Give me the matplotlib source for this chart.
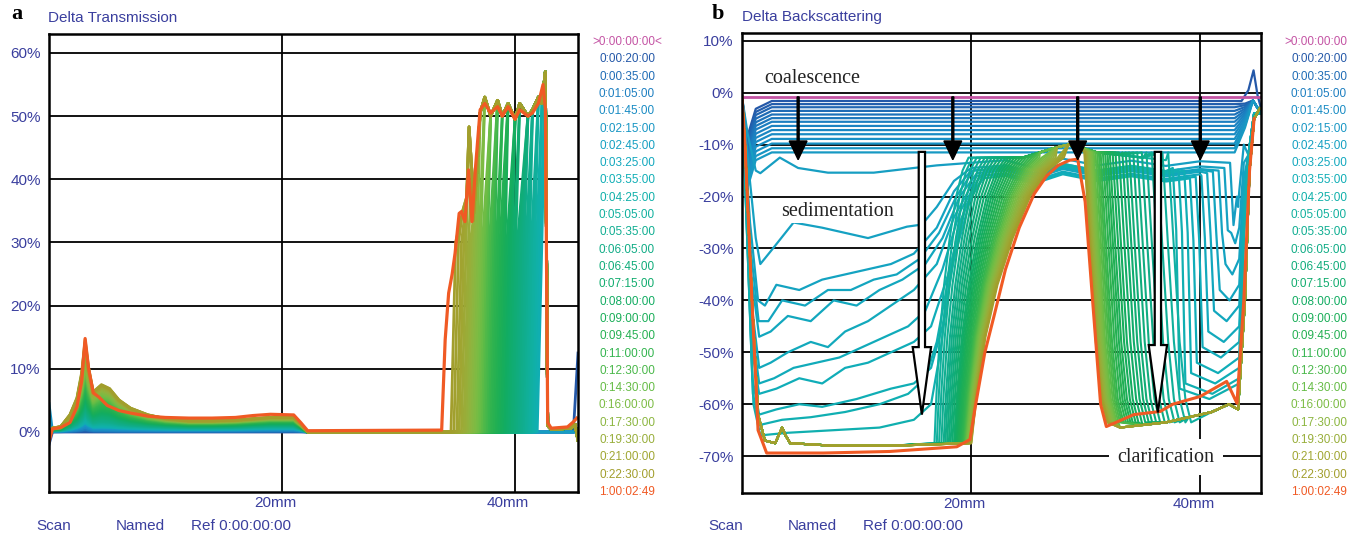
import numpy as np
import matplotlib
matplotlib.use("Agg")
import matplotlib.pyplot as plt
from matplotlib.patches import FancyArrow
from matplotlib.colors import LinearSegmentedColormap

plt.rcParams["font.family"] = ["Liberation Sans", "DejaVu Sans"]

TEXT_BLUE = "#3a3f9e"
REF_COLOR = "#c454a4"
FINAL_COLOR = "#f05a24"

# legend (scan times) and their colours
LEGEND_A = [">0:00:00:00<", "0:00:20:00", "0:00:35:00", "0:01:05:00", "0:01:45:00",
            "0:02:15:00", "0:02:45:00", "0:03:25:00", "0:03:55:00", "0:04:25:00",
            "0:05:05:00", "0:05:35:00", "0:06:05:00", "0:06:45:00", "0:07:15:00",
            "0:08:00:00", "0:09:00:00", "0:09:45:00", "0:11:00:00", "0:12:30:00",
            "0:14:30:00", "0:16:00:00", "0:17:30:00", "0:19:30:00", "0:21:00:00",
            "0:22:30:00", "1:00:02:49"]
LEGEND_B = [">0:00:00:00"] + LEGEND_A[1:]
PALETTE = ["#2458a8", "#1f6cb6", "#1c7ec0", "#1a8cc4", "#1896c4",
           "#15a0c2", "#12a8be", "#10aeb6", "#10b0aa", "#10b09e",
           "#10ae92", "#10ac86", "#10ac7a", "#10ac6e", "#12ac62",
           "#1aae58", "#24b052", "#32b44e", "#4ab84a", "#66bc46",
           "#7cbc44", "#8cb640", "#98ae3a", "#a0a632", "#a29e2c"]
LEGEND_COLORS = [REF_COLOR] + PALETTE + [FINAL_COLOR]

# ---------------- panel a : delta transmission ----------------
FINAL_A_X = [0.0, 0.3, 1.0, 1.8, 2.4, 2.8, 3.1, 3.4, 3.8, 4.3, 5.0, 6.0, 7.0, 8.5,
             10.0, 12.0, 14.0, 16.0, 17.5, 19.0, 21.0, 21.6, 22.2, 33.7, 34.0, 34.3,
             34.6, 34.85, 35.2, 35.4, 35.7, 36.0, 36.3, 36.6, 37.0, 37.4, 37.9, 38.5,
             38.9, 39.4, 40.0, 40.4, 41.1, 41.5, 42.0, 42.4, 42.6, 42.8, 43.1, 44.5,
             45.0, 45.3]
FINAL_A_Y = [-1.5, 0.5, 0.7, 1.5, 4.0, 8.0, 14.8, 10.0, 6.2, 5.5, 4.2, 3.4, 3.0, 2.5,
             2.3, 2.2, 2.2, 2.3, 2.6, 2.8, 2.7, 1.5, 0.2, 0.3, 14.6, 22.0,
             25.0, 28.3, 34.6, 34.9, 33.3, 41.5, 33.3, 41.8, 51.0, 52.0, 50.5, 51.5,
             50.0, 51.5, 49.5, 51.0, 50.0, 50.5, 52.0, 55.0, 51.0, 1.5, 0.6, 0.8,
             1.6, 2.2]

# lower zone (0-22 mm): shared shape pieces of the stacked scans
LOW_A_X = [0.0, 0.3, 1.0, 1.8, 2.4, 2.8, 3.1, 3.4, 3.8, 4.5, 5.2, 6.0, 7.0, 8.5,
           10.0, 12.0, 14.0, 16.0, 17.5, 19.0, 21.0, 21.6, 22.2]
LOW_A_BASE = [0.0, 0.3, 0.4, 0.6, 0.8, 0.9, 1.0, 1.0, 1.0, 1.1, 1.1, 1.05, 1.0, 0.95,
              0.9, 0.85, 0.85, 0.9, 1.0, 1.1, 1.1, 0.6, 0.0]
LOW_A_PEAK = [0, 0, 0, 0.12, 0.3, 0.6, 1.0, 0.55, 0.15, 0.05, 0.02, 0, 0, 0,
              0, 0, 0, 0, 0, 0, 0, 0, 0]
LOW_A_BUMP = [0, 0, 0, 0, 0, 0, 0, 0.25, 0.5, 0.95, 0.9, 0.6, 0.35, 0.15,
              0.05, 0, 0, 0, 0, 0, 0, 0, 0]

NAN = float("nan")
SCAN_A_LEVEL = [0.0, 0.1, 0.15, 0.25, 0.35, 0.45,
                0.5, 0.55, 0.6, 0.65, 0.7, 0.72, 0.75, 0.8, 0.85, 0.88,
                0.9, 0.95, 1.0, 1.02, 1.05, 1.1, 1.15, 1.18, 1.2, 1.25,
                1.3, 1.32, 1.35, 1.4, 1.45, 1.48, 1.5, 1.55, 1.6, 1.62,
                1.65, 1.7, 1.72, 1.75, 1.8, 1.82, 1.85, 1.88, 1.9, 1.92,
                1.95, 1.98, 2.0, 2.02, 2.05, 2.08, 2.1, 2.1]
SCAN_A_PEAK = [0.0, 0.2, 0.3, 0.5, 0.7, 0.9,
               1.0, 1.1, 1.2, 1.35, 1.5, 1.6, 1.75, 1.9, 2.0, 2.15,
               2.3, 2.5, 2.65, 2.8, 3.0, 3.2, 3.4, 3.6, 3.8, 4.0,
               4.25, 4.5, 4.75, 5.0, 5.3, 5.6, 5.9, 6.2, 6.5, 6.8,
               7.1, 7.4, 7.7, 8.0, 8.3, 8.6, 8.9, 9.2, 9.5, 9.8,
               10.1, 10.4, 10.7, 11.0, 11.4, 11.8, 12.1, 12.5]
SCAN_A_BUMP = [0, 0, 0, 0.05, 0.1, 0.15,
               0.2, 0.25, 0.3, 0.35, 0.4, 0.45, 0.5, 0.55, 0.6, 0.65,
               0.7, 0.8, 0.9, 1.0, 1.1, 1.2, 1.3, 1.4, 1.5, 1.6,
               1.7, 1.8, 1.9, 2.0, 2.1, 2.2, 2.35, 2.5, 2.65, 2.8,
               2.95, 3.1, 3.25, 3.4, 3.55, 3.7, 3.85, 4.0, 4.1, 4.2,
               4.3, 4.4, 4.5, 4.6, 4.65, 4.7, 4.75, 4.8]
SCAN_A_FRONT = [NAN, NAN, NAN, NAN, NAN, NAN,
                41.9, 41.75, 41.6, 41.45, 41.3, 41.15, 41.0, 40.85, 40.7, 40.55,
                40.4, 40.25, 40.1, 39.95, 39.8, 39.65, 39.5, 39.35, 39.2, 39.05,
                38.9, 38.75, 38.6, 38.45, 38.3, 38.15, 38.0, 37.85, 37.7, 37.55,
                37.4, 37.25, 37.1, 36.95, 36.8, 36.65, 36.5, 36.35, 36.2, 36.05,
                35.9, 35.75, 35.6, 35.4, 35.2, 35.0, 34.75, 34.5]

PLAT_A_X = [34.6, 34.85, 35.1, 35.5, 35.85, 36.05, 36.3, 36.4, 36.7, 37.0, 37.4, 37.9,
            38.5, 38.9, 39.4, 40.0, 40.4, 41.1, 41.5, 42.0, 42.3, 42.6]
PLAT_A_Y = [27.0, 30.4, 34.6, 35.0, 37.2, 48.3, 41.0, 33.5, 41.0, 50.5, 53.0, 50.0,
            52.5, 50.0, 52.0, 49.5, 52.0, 50.0, 51.0, 53.0, 52.0, 57.0]
TAIL_A_X = [42.8, 43.1, 44.8, 45.15, 45.4]
TAIL_A_Y = [1.0, 0.4, 0.6, 1.2, -1.3]

# ---------------- panel b : delta backscattering ----------------
REF_B_X = [0.0, 45.3]
REF_B_Y = [-0.8, -0.8]

COAL_LEVEL_B = [-1.6, -2.2, -2.8, -3.5, -4.2, -4.9, -5.6, -6.4, -7.2, -8.0, -8.9,
                -9.8, -10.7, -11.5]

SED_LEFT_X = [
    [0, 0.5, 1.2, 1.6, 3.3, 4.9, 7.5, 11.5, 15.0, 17.0, 20.0],
    [0, 0.6, 1.2, 1.6, 2.7, 4.5, 7.0, 9.0, 11.0, 14.4, 15.7, 17.0, 18.5, 20.0],
    [0, 0.7, 1.4, 2.0, 3.0, 5.0, 7.0, 9.0, 11.0, 13.0, 15.0, 17.0, 18.5, 20.0],
    [0, 0.75, 1.45, 2.3, 3.5, 5.5, 7.5, 9.5, 11.5, 13.5, 15.5, 17.2, 18.7, 20.2],
    [0, 0.8, 1.5, 2.5, 4.0, 6.0, 8.0, 10.0, 12.0, 14.0, 16.0, 17.5, 19.0, 20.5],
    [0, 0.8, 1.5, 2.5, 4.0, 6.0, 7.5, 9.0, 11.0, 13.0, 15.0, 17.0, 18.5, 20.5],
    [0, 0.85, 1.5, 2.8, 4.5, 6.5, 8.5, 10.5, 12.5, 14.5, 16.0, 17.5, 19.0, 20.8],
    [0, 0.9, 1.5, 3.0, 5.0, 7.0, 9.0, 11.0, 13.0, 15.0, 16.5, 18.0, 19.5, 21.0],
    [0, 0.9, 1.5, 3.0, 5.0, 7.0, 10.0, 13.0, 15.0, 16.5, 17.5, 18.5, 20.0, 21.5],
    [0, 0.95, 1.55, 3.5, 6.0, 9.0, 12.0, 14.5, 16.0, 17.0, 18.0, 19.0, 20.5, 21.5],
    [0, 1.0, 1.6, 4.0, 8.0, 12.0, 15.0, 16.5, 17.3, 18.2, 19.5, 21.5],
]
SED_LEFT_Y = [
    [-0.8, -8, -15, -15.5, -12.5, -14.5, -15.4, -15.4, -14.5, -14, -13.5],
    [-0.8, -15, -28, -33, -30, -25, -26, -27, -28, -25.8, -25.4, -22, -17, -14.5],
    [-0.8, -25, -40, -41, -37, -38, -36, -35, -34, -33, -31, -26, -19, -15],
    [-0.8, -30, -44, -44, -40, -41, -38, -38, -36, -35, -32, -27, -20, -15],
    [-0.8, -35, -47, -46, -43, -44, -40, -41, -38, -36, -33, -28, -20, -15.5],
    [-0.8, -40, -53, -52, -50, -48, -49, -46, -44, -41, -38, -33, -24, -16],
    [-0.8, -45, -56, -55, -53, -52, -51, -49, -47, -45, -42, -34, -23, -16],
    [-0.8, -50, -58, -57, -55, -56, -53, -52, -50, -48, -45, -35, -22, -16.5],
    [-0.8, -55, -62, -61, -60, -60.5, -59, -57, -56, -53, -45, -32, -20, -15],
    [-0.8, -58, -64, -63, -62.5, -61.5, -60, -58, -55, -48, -36, -25, -17, -14.5],
    [-0.8, -60, -66, -65.5, -65, -64.5, -63, -60, -50, -35, -22, -14.5],
]
SED_MID_LEVEL = [-13.5, -14.5, -15.0, -15.2, -15.5, -16.0, -16.2, -16.5, -15.0, -14.8, -14.5]
MID_X = [23.0, 25.5, 28.0, 31.0, 34.0, 37.0, 40.0]
MID_DY = [0.5, -1.0, 0.8, -0.5, 0.4, -0.6, 0.3]
SED_CLAR_FRONT = [42.6, 42.1, 41.6, 41.1, 40.6, 40.1, 39.6, 39.1, 38.6, 38.1, 37.6]
SED_CLAR_DEPTH = [-20, -27, -33, -38, -42, -46, -49, -52, -54, -56, -57]

SED_FRONT_B = [16.8, 17.0, 17.2, 17.4, 17.6, 17.75, 17.9, 18.05, 18.2, 18.35,
               18.5, 18.6, 18.7, 18.8, 18.9, 19.0, 19.1, 19.2, 19.3, 19.38,
               19.45, 19.52, 19.58, 19.64, 19.7, 19.75, 19.8, 19.84, 19.88, 19.92,
               19.95, 19.98, 20.0, 20.02]
CLAR_FRONT_B = [37.2, 36.7, 36.2, 35.75, 35.3, 34.9, 34.5, 34.15, 33.8, 33.5,
                33.2, 32.9, 32.6, 32.35, 32.1, 31.9, 31.7, 31.5, 31.3, 31.15,
                31.0, 30.85, 30.7, 30.6, 30.5, 30.4, 30.3, 30.22, 30.15, 30.08,
                30.02, 29.96, 29.92, 29.88]
LEFT_B_X = [0.0, 0.26, 0.87, 1.4, 2.0, 2.9, 3.2, 3.5, 3.8, 4.2, 8.0, 13.0]
LEFT_B_Y = [-0.8, -10, -40, -62, -67, -67.5, -66, -64.5, -66, -67.5, -68, -68]
RISE_DX = [0.0, 0.5, 1.3, 2.4, 3.8, 5.4, 7.0, 8.5]
RISE_Y = [-67.5, -58, -47, -37, -28, -20, -15, -12.5]
PLAT_B_X = [24.5, 26.0, 27.5, 28.5, 29.5, 31.0, 33.0, 35.0, 37.0, 39.0]
PLAT_B_Y = [-12.5, -11.5, -10.5, -10.0, -10.5, -11.5, -12.0, -12.5, -13.0, -13.0]
DROP_DX = [0.0, 0.5, 1.0, 1.5, 2.0]
DROP_Y = [-11.5, -30, -48, -59, -63.5]
BOT_B_X = [33.0, 35.0, 37.0, 39.0, 41.0, 42.5, 43.3]
BOT_B_Y = [-64.5, -64.0, -63.5, -62.5, -61.5, -60.0, -61.0]
TAIL_B_X = [43.9, 44.3, 44.7, 45.2]
TAIL_B_Y = [-40, -15, -5, -3]

FINAL_B_X = [0.0, 0.26, 0.87, 1.4, 2.15, 7.1, 12.9, 18.75, 19.9, 20.4, 21.2, 22.0,
             23.0, 24.2, 25.5, 26.6, 27.6, 28.6, 29.3, 29.95, 30.6, 31.3, 31.8, 34.2,
             36.5, 37.6, 40.0, 42.3, 43.2, 43.8, 44.3, 44.7]
FINAL_B_Y = [-0.8, -10, -40, -65, -69.4, -69.4, -69.1, -68.2, -66.8, -60, -50, -43,
             -34, -26, -19.5, -16, -14, -13, -12.8, -21, -40, -60, -64.3, -62,
             -61.4, -60, -58.5, -55.6, -59.8, -40, -15, -5]

COAL_ARROW_X = [4.9, 18.4, 29.3, 40.0]
HOLLOW_ARROW_X = [15.7, 36.3]
HOLLOW_ARROW_TIP = [-62.0, -61.6]

cmap = LinearSegmentedColormap.from_list("scan", PALETTE)
W, H = 1361, 538
fig = plt.figure(figsize=(W / 100, H / 100), dpi=100)


def px_axes(left, top, right, bottom):
    return fig.add_axes([left / W, 1 - bottom / H, (right - left) / W, (bottom - top) / H])


def ftext(x, y, s, **kw):
    fig.text(x / W, 1 - y / H, s, **kw)


def setup(ax, xmax, ylim, yticks):
    ax.set_xlim(0, xmax)
    ax.set_ylim(*ylim)
    for t in yticks:
        ax.axhline(t, color="black", lw=1.3, zorder=1)
    for t in (20, 40):
        ax.axvline(t, color="black", lw=1.3, zorder=1)
        ax.annotate(f"{t}mm", xy=(t, 0), xycoords=("data", "axes fraction"),
                    xytext=(-7, -11), textcoords="offset pixels", ha="center",
                    va="center", color=TEXT_BLUE, fontsize=11)
    ax.set_xticks([])
    ax.set_yticks(yticks)
    ax.set_yticklabels([f"{t}%" for t in yticks], color=TEXT_BLUE, fontsize=11)
    ax.tick_params(axis="y", length=0, pad=6)
    for sp in ax.spines.values():
        sp.set_linewidth(1.8)
        sp.set_zorder(10)


# ---- panel a ----
ax = px_axes(49, 34, 578, 492)
setup(ax, 45.4, (-9.5, 63.0), [0, 10, 20, 30, 40, 50, 60])
ax.plot([0, 45.4], [0, 0], color=REF_COLOR, lw=1.5, zorder=1.5)

n_a = len(SCAN_A_LEVEL)
pos_a = np.concatenate([np.linspace(0.0, 0.2, 6), np.linspace(0.3, 1.0, n_a - 6)])
for i in range(n_a):
    lvl, pk, bp, f = SCAN_A_LEVEL[i], SCAN_A_PEAK[i], SCAN_A_BUMP[i], SCAN_A_FRONT[i]
    xs = list(LOW_A_X)
    ys = [lvl * b + pk * p + bp * u for b, p, u in zip(LOW_A_BASE, LOW_A_PEAK, LOW_A_BUMP)]
    if i == 0:
        ys[0] = -2.0
    if i == 4:
        ys[0] = 4.5
    if np.isnan(f):
        xs += [45.0]
        ys += [0.0]
        if i == 0:
            xs += [45.4]
            ys += [12.5]
    else:
        xs += [f, f + 0.4]
        ys += [0.0, 30.0]
        for x, y in zip(PLAT_A_X, PLAT_A_Y):
            if x > f + 0.6:
                xs.append(x)
                ys.append(y)
        xs += TAIL_A_X
        ys += TAIL_A_Y
    ax.plot(xs, ys, color=cmap(pos_a[i]), lw=2.0, zorder=2, solid_joinstyle="round")
ax.plot(FINAL_A_X, FINAL_A_Y, color=FINAL_COLOR, lw=2.3, zorder=4)

# ---- panel b ----
ax = px_axes(742, 33, 1261, 493)
setup(ax, 45.3, (-77.1, 11.5), [10, 0, -10, -20, -30, -40, -50, -60, -70])

n1, n2, n3 = len(COAL_LEVEL_B), len(SED_LEFT_X), len(SED_FRONT_B)
pos1 = np.linspace(0.0, 0.18, n1)
pos2 = np.linspace(0.2, 0.32, n2)
pos3 = np.linspace(0.36, 1.0, n3)
spread3 = np.linspace(0.35, 0.95, n3)   # early fronts are steep, late ones lean

for i, lvl in enumerate(COAL_LEVEL_B):
    xs = [0.0, 0.45, 1.2, 2.6, 43.0]
    ys = [-0.8, lvl - 7, lvl - 1.5, lvl, lvl]
    if i == 0:
        xs += [43.6, 44.2, 44.65, 45.0, 45.3]
        ys += [lvl, 0.5, 4.3, -0.5, -3.0]
    else:
        xs += [43.9, 44.6, 45.3]
        ys += [lvl * 0.5 - 1, -1.5, -4.0]
    ax.plot(xs, ys, color=cmap(pos1[i]), lw=1.6, zorder=2)

for i in range(n2):
    xs, ys = list(SED_LEFT_X[i]), list(SED_LEFT_Y[i])
    m, c, d = SED_MID_LEVEL[i], SED_CLAR_FRONT[i], SED_CLAR_DEPTH[i]
    for x, dy in zip(MID_X, MID_DY):
        if xs[-1] < x < c:
            xs.append(x)
            ys.append(m + dy)
    xs += [c, c + 0.3, c + 0.6, (c + 44.0) / 2, 43.4, 43.8, 44.2, 44.7, 45.3]
    ys += [m, m - 12, d, d - 2, d + 1, d * 0.5, -12, -4, -4]
    ax.plot(xs, ys, color=cmap(pos2[i]), lw=1.6, zorder=2)

for i in range(n3):
    s, c, k = SED_FRONT_B[i], CLAR_FRONT_B[i], spread3[i]
    xs, ys = [], []
    for x, y in zip(LEFT_B_X, LEFT_B_Y):
        if x < s:
            xs.append(x)
            ys.append(y)
    for dx, y in zip(RISE_DX, RISE_Y):
        xs.append(s + dx * k)
        ys.append(y)
    for x, y in zip(PLAT_B_X, PLAT_B_Y):
        if s + RISE_DX[-1] * k < x < c:
            xs.append(x)
            ys.append(y)
    for dx, y in zip(DROP_DX, DROP_Y):
        xs.append(c + dx)
        ys.append(y)
    for x, y in zip(BOT_B_X, BOT_B_Y):
        if x > c + DROP_DX[-1]:
            xs.append(x)
            ys.append(y)
    xs += TAIL_B_X
    ys += TAIL_B_Y
    ax.plot(xs, ys, color=cmap(pos3[i]), lw=1.5, zorder=2)

ax.plot(REF_B_X, REF_B_Y, color=REF_COLOR, lw=2.0, zorder=3)
ax.plot(FINAL_B_X, FINAL_B_Y, color=FINAL_COLOR, lw=2.2, zorder=4)

for x in COAL_ARROW_X:
    ax.add_patch(FancyArrow(x, -0.8, 0, -12.1, width=0.17, head_width=1.55,
                            head_length=3.6, length_includes_head=True,
                            color="black", zorder=6))
for x, tip in zip(HOLLOW_ARROW_X, HOLLOW_ARROW_TIP):
    ax.add_patch(FancyArrow(x, -11.4, 0, tip + 11.4, width=0.55, head_width=1.6,
                            head_length=13, length_includes_head=True,
                            fc="white", ec="black", lw=1.6, zorder=6))

serif = ["Liberation Serif", "DejaVu Serif"]
ax.text(6.1, 2.7, "coalescence", family=serif, fontsize=14.5, ha="center",
        va="center", color="#222222", zorder=7)
ax.text(8.34, -22.8, "sedimentation", family=serif, fontsize=14.5, ha="center",
        va="center", color="#222222", zorder=7,
        bbox=dict(fc="white", ec="none", pad=2))
ax.text(37.0, -70.2, "clarification", family=serif, fontsize=14.5, ha="center",
        va="center", color="#222222", zorder=7,
        bbox=dict(fc="white", ec="none", pad=6))

# ---- titles, panel letters, legends, footers ----
ftext(17, 14, "a", family=serif, fontsize=16, fontweight="bold", ha="center", va="center")
ftext(718, 14, "b", family=serif, fontsize=16, fontweight="bold", ha="center", va="center")
ftext(48, 18, "Delta Transmission", color=TEXT_BLUE, fontsize=11, va="center")
ftext(742, 17, "Delta Backscattering", color=TEXT_BLUE, fontsize=11, va="center")

step = (492 - 42) / (len(LEGEND_A) - 1)
for k, (la, lb, col) in enumerate(zip(LEGEND_A, LEGEND_B, LEGEND_COLORS)):
    y = 42 + k * step
    ftext(627, y, la, color=col, fontsize=8.5, ha="center", va="center")
    ftext(1347, y, lb, color=col, fontsize=8.5, ha="right", va="center")

for x0 in (36, 708):
    ftext(x0, 526, "Scan", color=TEXT_BLUE, fontsize=11, va="center")
    ftext(x0 + 80, 526, "Named", color=TEXT_BLUE, fontsize=11, va="center")
    ftext(x0 + 155, 526, "Ref 0:00:00:00", color=TEXT_BLUE, fontsize=11, va="center")

fig.savefig("out.png", dpi=100)
